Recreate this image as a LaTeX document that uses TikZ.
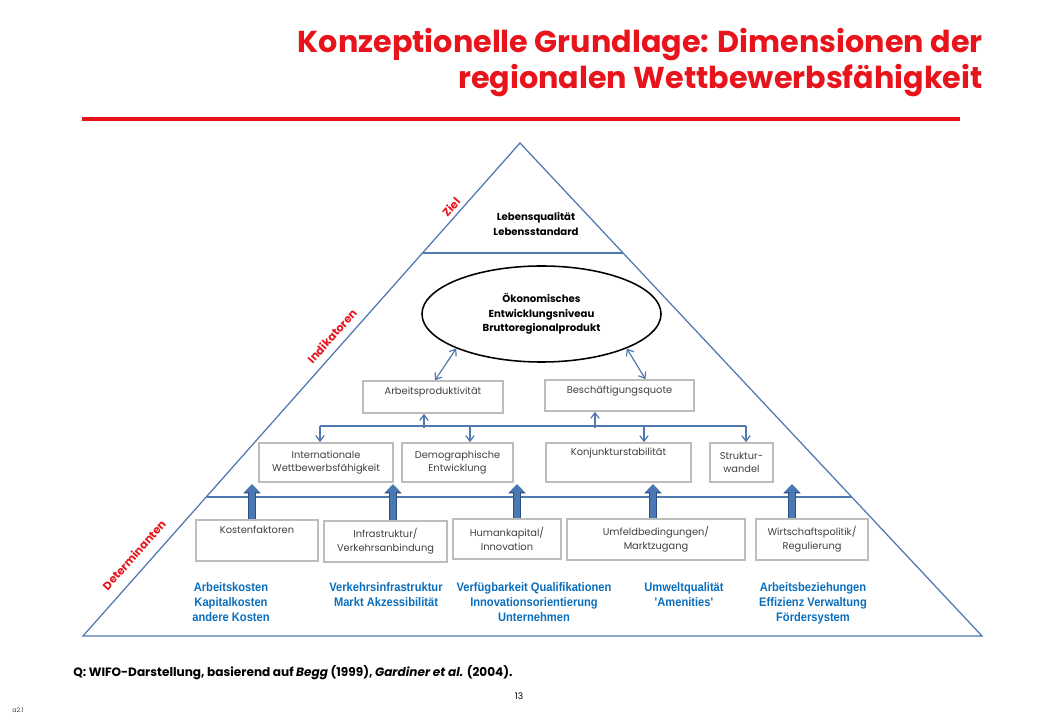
\documentclass[tikz,border=0pt]{standalone}
\usepackage{fontspec}
\setmainfont{Poppins}
\newfontfamily\bluefont[FakeStretch=0.9]{Liberation Sans}
\usepackage{tikz}
\usetikzlibrary{arrows.meta,positioning,shapes,calc}
\definecolor{titlered}{HTML}{E8141C}
\definecolor{sideblue}{HTML}{5079AE}
\definecolor{boxgray}{HTML}{BDBDBD}
\definecolor{textgray}{HTML}{3F3F3F}
\definecolor{detblue}{HTML}{0A6EBD}
\definecolor{fatfill}{HTML}{4A78B5}
\definecolor{fatdark}{HTML}{2E4E7E}
\tikzset{
  titletext/.style={align=right,inner sep=0pt,text=titlered,
                    font=\bfseries\fontsize{21.5}{25.5}\selectfont},
  titlerule/.style={draw=titlered,line width=2.2pt},
  pyramid/.style={draw=sideblue,line width=0.9pt},
  sidelabel/.style={text=titlered,rotate=48.4,inner sep=0pt,
                    font=\bfseries\fontsize{8}{8}\selectfont},
  cell/.style={draw=boxgray,line width=1.1pt,align=center,inner sep=2pt,
               text=textgray,font=\fontsize{7}{9.8}\selectfont},
  goaltext/.style={align=center,inner sep=0pt,
                   font=\bfseries\fontsize{7.2}{10}\selectfont},
  ecobubble/.style={ellipse,draw=black,line width=1.1pt,align=center,
                    inner sep=0pt,minimum width=5.975cm,minimum height=2.4cm,
                    font=\bfseries\fontsize{7.2}{10.2}\selectfont},
  detnote/.style={align=center,anchor=north,inner sep=0pt,text=detblue,
                  font=\bluefont\bfseries\fontsize{8.8}{10.7}\selectfont},
  thinarr/.style={-{Straight Barb[length=4pt,width=6pt]},line width=0.85pt,
                  draw=sideblue},
  dblarr/.style={{Straight Barb[length=4pt,width=6pt]}-{Straight Barb[length=4pt,width=6pt]},
                 line width=0.85pt,draw=sideblue},
  busline/.style={line width=1.4pt,draw=sideblue},
  fatarr/.style={-{Triangle[length=5.5pt,width=10pt]},line width=4pt,draw=fatfill,
                 preaction={draw=fatdark,line width=5.8pt,
                            -{Triangle[length=6.5pt,width=12pt]}}}
}
\begin{document}
\begin{tikzpicture}[x=0.025cm,y=-0.025cm,>=Stealth]
    \path[use as bounding box] (0,0) rectangle (1040,720);

    \node[titletext,anchor=north east] (title) at (983,28)
      {Konzeptionelle Grundlage: Dimensionen der\\regionalen Wettbewerbsfähigkeit};
    \draw[titlerule] (82,119) -- (960,119);

    % pyramid with its two levels
    \coordinate (apex) at (520,143);
    \coordinate (bl) at (83,636);
    \coordinate (br) at (982,636);
    \draw[pyramid] (apex) -- (bl) -- (br) -- cycle;
    \draw[pyramid] ($(apex)!0.2231!(bl)$) -- ($(apex)!0.2231!(br)$);
    \draw[pyramid] ($(apex)!0.718!(bl)$) -- ($(apex)!0.718!(br)$);

    \node[sidelabel] (ziel) at (451,207) {Ziel};
    \node[sidelabel] (indik) at (332,336) {Indikatoren};
    \node[sidelabel] (determ) at (134,555) {Determinanten};

    \node[goaltext] (goal) at (536,224) {Lebensqualität\\Lebensstandard};
    \node[ecobubble] (eco) at (541.5,314)
      {Ökonomisches\\Entwicklungsniveau\\Bruttoregionalprodukt};

    % indicators
    \node[cell,minimum width=3.5cm,minimum height=0.8cm,text depth=8.5pt]
      (arbeit) at (433,397) {Arbeitsproduktivität};
    \node[cell,minimum width=3.725cm,minimum height=0.775cm,text depth=8pt]
      (besch) at (619.5,395.5) {Beschäftigungsquote};
    \draw[dblarr] (eco.202) -- ($(arbeit.north)+(2,0)$);
    \draw[dblarr] (eco.338) -- ($(besch.north)+(26,0)$);

    \node[cell,minimum width=3.35cm,minimum height=0.975cm]
      (intl) at (326,462.5) {Internationale\\Wettbewerbsfähigkeit};
    \node[cell,minimum width=2.775cm,minimum height=0.975cm]
      (demo) at (457.5,462.5) {Demographische\\Entwicklung};
    \node[cell,minimum width=3.625cm,minimum height=0.975cm,text depth=15pt]
      (konj) at (618.5,462.5) {Konjunkturstabilität};
    \node[cell,minimum width=1.575cm,minimum height=0.975cm]
      (struk) at (741.5,462.5) {Struktur-\\wandel};

    \draw[busline] ($(intl.north)+(-6,-16)$) -- ($(struk.north)+(4.5,-16)$);
    \draw[thinarr] ($(intl.north)+(-6,-16)$) -- ++(0,16);
    \draw[thinarr] ($(demo.north)+(12.5,-16)$) -- ++(0,16);
    \draw[thinarr] ($(konj.north)+(25.5,-16)$) -- ++(0,16);
    \draw[thinarr] ($(struk.north)+(4.5,-16)$) -- ++(0,16);
    \draw[thinarr] ($(arbeit.south)+(-9,14)$) -- ++(0,-14);
    \draw[thinarr] ($(besch.south)+(-24.5,16)$) -- ++(0,-16);

    % determinants
    \node[cell,minimum width=3.05cm,minimum height=1.025cm,text depth=16pt]
      (kosten) at (257,540.5) {Kostenfaktoren};
    \node[cell,minimum width=3.075cm,minimum height=1.025cm]
      (infra) at (385.5,541.5) {Infrastruktur/\\Verkehrsanbindung};
    \node[cell,minimum width=2.7cm,minimum height=1cm]
      (human) at (507,539) {Humankapital/\\Innovation};
    \node[cell,minimum width=4.45cm,minimum height=1.025cm]
      (umfeld) at (656,539.5) {Umfeldbedingungen/\\Marktzugang};
    \node[cell,minimum width=2.8cm,minimum height=1.025cm]
      (wirt) at (812,539.5) {Wirtschaftspolitik/\\Regulierung};

    \draw[fatarr] ($(kosten.north)+(-5,0)$) -- ++(0,-35);
    \draw[fatarr] ($(infra.north)+(7.5,0)$) -- ++(0,-36);
    \draw[fatarr] ($(human.north)+(10,0)$) -- ++(0,-34);
    \draw[fatarr] ($(umfeld.north)+(-3,0)$) -- ++(0,-34);
    \draw[fatarr] ($(wirt.north)+(-20,0)$) -- ++(0,-34);

    \node[detnote] (note1) at (231,582) {Arbeitskosten\\Kapitalkosten\\andere Kosten};
    \node[detnote] (note2) at (386,582) {Verkehrsinfrastruktur\\Markt Akzessibilität};
    \node[detnote] (note3) at (534,582)
      {Verfügbarkeit Qualifikationen\\Innovationsorientierung\\Unternehmen};
    \node[detnote] (note4) at (684,582) {Umweltqualität\\'Amenities'};
    \node[detnote] (note5) at (813,582)
      {Arbeitsbeziehungen\\Effizienz Verwaltung\\Fördersystem};

    \node[anchor=west,inner sep=0pt,font=\bfseries\fontsize{8.6}{10}\selectfont]
      (source) at (73,673)
      {Q: WIFO-Darstellung, basierend auf \textit{Begg} (1999), \textit{Gardiner et al.} (2004).};
    \node[inner sep=0pt,font=\fontsize{6.5}{7}\selectfont] (page) at (519,696) {13};
    \node[inner sep=0pt,text=textgray,font=\fontsize{4.5}{5}\selectfont] (slide) at (18,710) {a2.1};
  \end{tikzpicture}
\end{document}
